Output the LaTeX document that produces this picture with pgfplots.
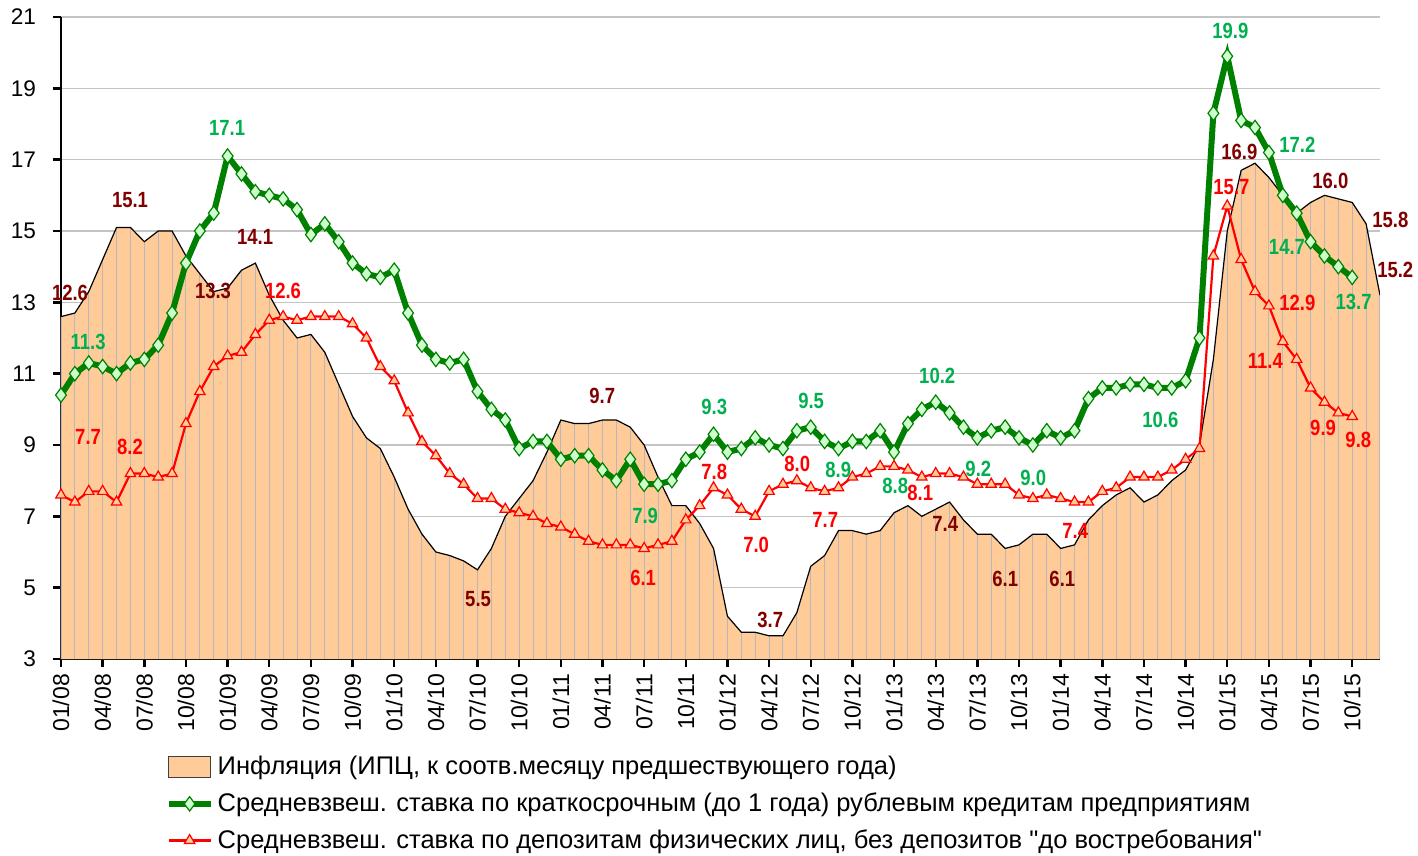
\documentclass[border=0pt]{standalone}
\usepackage{fontspec}
\setmainfont{Liberation Sans}[Ligatures=TeXOff]
\newfontfamily\lfont{Liberation Sans}[FakeStretch=0.84]
\usepackage{pgfplots}
\usepackage{pgfplotstable}
\pgfplotsset{compat=1.18}

\definecolor{orangefill}{HTML}{FFCC99}
\definecolor{gridgray}{HTML}{C4C4C4}
\definecolor{dropgray}{HTML}{B8B8BC}
\definecolor{loangreen}{HTML}{008000}
\definecolor{loanfill}{HTML}{CCFFCC}
\definecolor{depred}{HTML}{FF0000}
\definecolor{labdark}{HTML}{800000}
\definecolor{labgreen}{HTML}{00B050}

\pgfplotsset{
  linelegend/.style={legend image code/.code={%
    \draw[mark repeat=2, mark phase=2, ##1] plot coordinates {(0cm,0cm) (0.37cm,0cm) (0.74cm,0cm)};}},
  boxlegend/.style={legend image code/.code={%
    \draw[fill=orangefill, draw=black!75, line width=0.6pt] (0cm,-0.18cm) rectangle (0.74cm,0.19cm);}},
}

% inflation, CPI y/y, 01/08 .. 12/15
\pgfplotstableread{
k v
0 12.6
1 12.7
2 13.3
3 14.2
4 15.1
5 15.1
6 14.7
7 15.0
8 15.0
9 14.3
10 13.8
11 13.3
12 13.4
13 13.9
14 14.1
15 13.2
16 12.5
17 12.0
18 12.1
19 11.6
20 10.7
21 9.8
22 9.2
23 8.9
24 8.1
25 7.2
26 6.5
27 6.0
28 5.9
29 5.75
30 5.5
31 6.1
32 7.0
33 7.5
34 8.0
35 8.8
36 9.7
37 9.6
38 9.6
39 9.7
40 9.7
41 9.5
42 9.0
43 8.1
44 7.3
45 7.3
46 6.8
47 6.1
48 4.2
49 3.75
50 3.75
51 3.65
52 3.65
53 4.3
54 5.6
55 5.9
56 6.6
57 6.6
58 6.5
59 6.6
60 7.1
61 7.3
62 7.0
63 7.2
64 7.4
65 6.9
66 6.5
67 6.5
68 6.1
69 6.2
70 6.5
71 6.5
72 6.1
73 6.2
74 6.9
75 7.3
76 7.6
77 7.8
78 7.4
79 7.6
80 8.0
81 8.3
82 9.0
83 11.4
84 15.0
85 16.7
86 16.9
87 16.5
88 16.0
89 15.5
90 15.8
91 16.0
92 15.9
93 15.8
94 15.2
95 13.2
}\infl

% short-term rouble loans to companies
\pgfplotstableread{
k v
0 10.4
1 11.0
2 11.3
3 11.2
4 11.0
5 11.3
6 11.4
7 11.8
8 12.7
9 14.1
10 15.0
11 15.5
12 17.1
13 16.6
14 16.1
15 16.0
16 15.9
17 15.6
18 14.9
19 15.2
20 14.7
21 14.1
22 13.8
23 13.7
24 13.9
25 12.7
26 11.8
27 11.4
28 11.3
29 11.4
30 10.5
31 10.0
32 9.7
33 8.9
34 9.1
35 9.1
36 8.6
37 8.7
38 8.7
39 8.3
40 8.0
41 8.6
42 7.9
43 7.9
44 8.0
45 8.6
46 8.8
47 9.3
48 8.8
49 8.9
50 9.2
51 9.0
52 8.9
53 9.4
54 9.5
55 9.1
56 8.9
57 9.1
58 9.1
59 9.4
60 8.8
61 9.6
62 10.0
63 10.2
64 9.9
65 9.5
66 9.2
67 9.4
68 9.5
69 9.2
70 9.0
71 9.4
72 9.2
73 9.4
74 10.3
75 10.6
76 10.6
77 10.7
78 10.7
79 10.6
80 10.6
81 10.8
82 12.0
83 18.3
84 19.9
85 18.1
86 17.9
87 17.2
88 16.0
89 15.5
90 14.7
91 14.3
92 14.0
93 13.7
}\loans

% household deposits, excluding demand deposits
\pgfplotstableread{
k v
0 7.6
1 7.4
2 7.7
3 7.7
4 7.4
5 8.2
6 8.2
7 8.1
8 8.2
9 9.6
10 10.5
11 11.2
12 11.5
13 11.6
14 12.1
15 12.5
16 12.6
17 12.5
18 12.6
19 12.6
20 12.6
21 12.4
22 12.0
23 11.2
24 10.8
25 9.9
26 9.1
27 8.7
28 8.2
29 7.9
30 7.5
31 7.5
32 7.2
33 7.1
34 7.0
35 6.8
36 6.7
37 6.5
38 6.3
39 6.2
40 6.2
41 6.2
42 6.1
43 6.2
44 6.3
45 6.9
46 7.3
47 7.8
48 7.6
49 7.2
50 7.0
51 7.7
52 7.9
53 8.0
54 7.8
55 7.7
56 7.8
57 8.1
58 8.2
59 8.4
60 8.4
61 8.3
62 8.1
63 8.2
64 8.2
65 8.1
66 7.9
67 7.9
68 7.9
69 7.6
70 7.5
71 7.6
72 7.5
73 7.4
74 7.4
75 7.7
76 7.8
77 8.1
78 8.1
79 8.1
80 8.3
81 8.6
82 8.9
83 14.3
84 15.7
85 14.2
86 13.3
87 12.9
88 11.9
89 11.4
90 10.6
91 10.2
92 9.9
93 9.8
}\deps

\begin{document}
\begin{tikzpicture}[
  labI/.style={font=\lfont\bfseries\fontsize{11}{12}\selectfont, text=labdark, inner sep=0pt},
  labG/.style={font=\lfont\bfseries\fontsize{11}{12}\selectfont, text=labgreen, inner sep=0pt},
  labR/.style={font=\lfont\bfseries\fontsize{11}{12}\selectfont, text=depred, inner sep=0pt}]
\useasboundingbox (-30.5pt,-98.5pt) rectangle (678.5pt,329.5pt);
\begin{axis}[
  at={(0,0)}, anchor=south west,
  scale only axis, width=659.5pt, height=321pt,
  xmin=0, xmax=95, ymin=3, ymax=21,
  clip mode=individual,
  axis x line*=bottom, axis y line*=left,
  axis line style={-, line width=1.3pt, black},
  xtick={0,3,...,93},
  xticklabels={01/08,04/08,07/08,10/08,01/09,04/09,07/09,10/09,01/10,04/10,07/10,10/10,01/11,04/11,07/11,10/11,01/12,04/12,07/12,10/12,01/13,04/13,07/13,10/13,01/14,04/14,07/14,10/14,01/15,04/15,07/15,10/15},
  ytick={3,5,...,21},
  tick align=outside, major tick length=4pt,
  tick style={black, line width=1.2pt},
  ymajorgrids, grid style={gridgray, line width=0.6pt},
  xticklabel style={rotate=90, anchor=east, font=\fontsize{11.5}{12}\selectfont},
  yticklabel style={font=\fontsize{11.3}{12}\selectfont, xshift=-5pt},
  /pgf/number format/assume math mode=true,
  legend style={at={(0.079,-0.145)}, anchor=north west, draw=none, fill=none,
    font=\fontsize{12.75}{15}\selectfont, row sep=3.5pt, inner sep=0pt},
  legend cell align=left,
]
\addplot[fill=orangefill, draw=none, area legend, boxlegend]
  table[x=k, y=v]{\infl} \closedcycle;
\addlegendentry{Инфляция (ИПЦ, к соотв.месяцу предшествующего года)}
\addplot[forget plot, ycomb, draw=dropgray, line width=0.5pt] table[x=k, y=v]{\infl};
\addplot[forget plot, black, line width=0.6pt] table[x=k, y=v]{\infl};
\addplot[loangreen, line width=3pt, mark=diamond*, mark size=3.6pt,
  mark options={fill=loanfill, draw=loangreen, line width=0.6pt}, linelegend]
  table[x=k, y=v]{\loans};
\addlegendentry{Средневзвеш. ставка по краткосрочным (до 1 года) рублевым кредитам предприятиям}
\addplot[depred, line width=1.1pt, mark=triangle*, mark size=3pt,
  mark options={fill=orangefill, draw=depred, line width=0.6pt}, linelegend]
  table[x=k, y=v]{\deps};
\addlegendentry{Средневзвеш. ставка по депозитам физических лиц, без депозитов "до востребования"}

% inflation labels
\node[labI] at (axis cs:0.65,13.26) {12.6};
\node[labI] at (axis cs:4.97,15.87) {15.1};
\node[labI] at (axis cs:10.95,13.32) {13.3};
\node[labI] at (axis cs:13.98,14.83) {14.1};
\node[labI] at (axis cs:30.04,4.68) {5.5};
\node[labI] at (axis cs:38.98,10.37) {9.7};
\node[labI] at (axis cs:51.08,4.09) {3.7};
\node[labI] at (axis cs:63.69,6.78) {7.4};
\node[labI] at (axis cs:68.01,5.24) {6.1};
\node[labI] at (axis cs:72.12,5.24) {6.1};
\node[labI] at (axis cs:84.87,17.21) {16.9};
\node[labI] at (axis cs:91.43,16.40) {16.0};
\node[labI] at (axis cs:95.75,15.31) {15.8};
\node[labI] at (axis cs:96.10,13.90) {15.2};
% loan labels
\node[labG] at (axis cs:1.95,11.89) {11.3};
\node[labG] at (axis cs:11.96,17.89) {17.1};
\node[labG] at (axis cs:47.05,10.06) {9.3};
\node[labG] at (axis cs:42.07,7.01) {7.9};
\node[labG] at (axis cs:54.03,10.23) {9.5};
\node[labG] at (axis cs:55.98,8.30) {8.9};
\node[labG] at (axis cs:60.09,7.85) {8.8};
\node[labG] at (axis cs:63.11,10.93) {10.2};
\node[labG] at (axis cs:66.07,8.33) {9.2};
\node[labG] at (axis cs:70.03,8.07) {9.0};
\node[labG] at (axis cs:79.18,9.70) {10.6};
\node[labG] at (axis cs:84.22,20.61) {19.9};
\node[labG] at (axis cs:89.05,17.41) {17.2};
\node[labG] at (axis cs:88.30,14.55) {14.7};
\node[labG] at (axis cs:93.10,13.01) {13.7};
% deposit labels
\node[labR] at (axis cs:1.95,9.22) {7.7};
\node[labR] at (axis cs:4.97,8.94) {8.2};
\node[labR] at (axis cs:15.99,13.32) {12.6};
\node[labR] at (axis cs:41.93,5.27) {6.1};
\node[labR] at (axis cs:47.05,8.24) {7.8};
\node[labR] at (axis cs:50.07,6.20) {7.0};
\node[labR] at (axis cs:53.03,8.47) {8.0};
\node[labR] at (axis cs:55.04,6.90) {7.7};
\node[labR] at (axis cs:61.89,7.65) {8.1};
\node[labR] at (axis cs:73.05,6.59) {7.4};
\node[labR] at (axis cs:84.30,16.23) {15.7};
\node[labR] at (axis cs:89.05,12.98) {12.9};
\node[labR] at (axis cs:86.74,11.35) {11.4};
\node[labR] at (axis cs:90.90,9.48) {9.9};
\node[labR] at (axis cs:93.44,9.14) {9.8};
\end{axis}
\end{tikzpicture}
\end{document}
